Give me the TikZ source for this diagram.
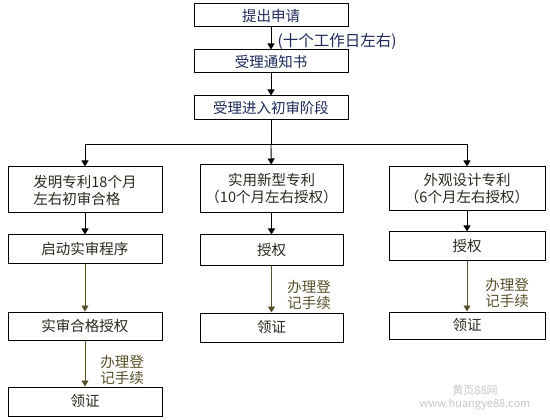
\documentclass[tikz,border=0pt]{standalone}
\usepackage{fontspec}
\setmainfont{Noto Sans CJK SC}
\usetikzlibrary{arrows.meta}

\definecolor{navy}{RGB}{28,40,90}
\definecolor{olive}{RGB}{85,80,40}
\definecolor{ink}{RGB}{40,40,30}

\tikzset{
  box/.style={draw,line width=1pt,inner sep=0pt,align=center,
    font=\fontsize{14.5}{17}\selectfont},
  topbox/.style={box,minimum width=154pt,text=navy},
  arr/.style={-{Triangle[width=7pt,length=6pt]},line width=0.9pt},
  oarr/.style={arr,draw=olive},
  note/.style={align=left,text=olive,font=\fontsize{14.5}{16}\selectfont}
}

\begin{document}
\begin{tikzpicture}[x=1pt,y=-1pt]
\useasboundingbox (0,0) rectangle (550,420);
% Application stage
\node[topbox,minimum height=23pt] (apply) at (271,15.5) {提出申请};
\node[topbox,minimum height=23pt] (notice) at (271,61.5) {受理通知书};
\node[topbox,minimum height=24pt] (prelim) at (271,108) {受理进入初审阶段};
\node[anchor=west,text=navy,font=\fontsize{15.5}{16}\selectfont] (days) at (274,42) {(十个工作日左右)};
\draw[arr] (apply) -- (notice);
\draw[arr] (notice) -- (prelim);
% Branching line
\coordinate (forkL) at (85,144);
\coordinate (forkM) at (271,144);
\coordinate (forkR) at (467,144);
\draw[line width=0.9pt] (prelim) -- (forkM);
\draw[line width=0.9pt] (forkL) -- (forkR);
% Invention patent
\node[box,text=ink,minimum width=154pt,minimum height=46pt,align=left] (invent) at (85,190) {发明专利18个月\\左右初审合格};
\node[box,text=ink,minimum width=154pt,minimum height=28pt] (start) at (85,249) {启动实审程序};
\node[box,text=ink,minimum width=154pt,minimum height=28pt] (pass) at (85,326) {实审合格授权};
\node[box,text=ink,minimum width=154pt,minimum height=29pt] (certL) at (85,401.5) {领证};
\node[note] (regL) at (122,370) {办理登\\记手续};
\draw[arr] (forkL) -- (invent);
\draw[arr] (invent) -- (start);
\draw[oarr] (start) -- (pass);
\draw[oarr] (pass) -- (certL);
% Utility model patent
\node[box,text=ink,minimum width=143pt,minimum height=48pt] (utility) at (271.5,189) {实用新型专利\\（10个月左右授权）};
\node[box,text=ink,minimum width=143pt,minimum height=30pt] (grantM) at (271.5,250) {授权};
\node[box,text=ink,minimum width=143pt,minimum height=29pt] (certM) at (271.5,327.5) {领证};
\node[note] (regM) at (309,295) {办理登\\记手续};
\draw[arr] (forkM) -- (utility);
\draw[arr] (utility) -- (grantM);
\draw[oarr] (grantM) -- (certM);
% Design patent
\node[box,text=ink,minimum width=156pt,minimum height=44pt] (design) at (467,189) {外观设计专利\\（6个月左右授权）};
\node[box,text=ink,minimum width=156pt,minimum height=28pt] (grantR) at (467,246) {授权};
\node[box,text=ink,minimum width=156pt,minimum height=27pt] (certR) at (467,325.5) {领证};
\node[note] (regR) at (507,293) {办理登\\记手续};
\draw[arr] (forkR) -- (design);
\draw[arr] (design) -- (grantR);
\draw[oarr] (grantR) -- (certR);
% Watermark
\node[align=center,text=gray!45,font=\fontsize{11}{13}\selectfont] (mark) at (475,398) {黄页88网\\www.huangye88.com};
\end{tikzpicture}
\end{document}
